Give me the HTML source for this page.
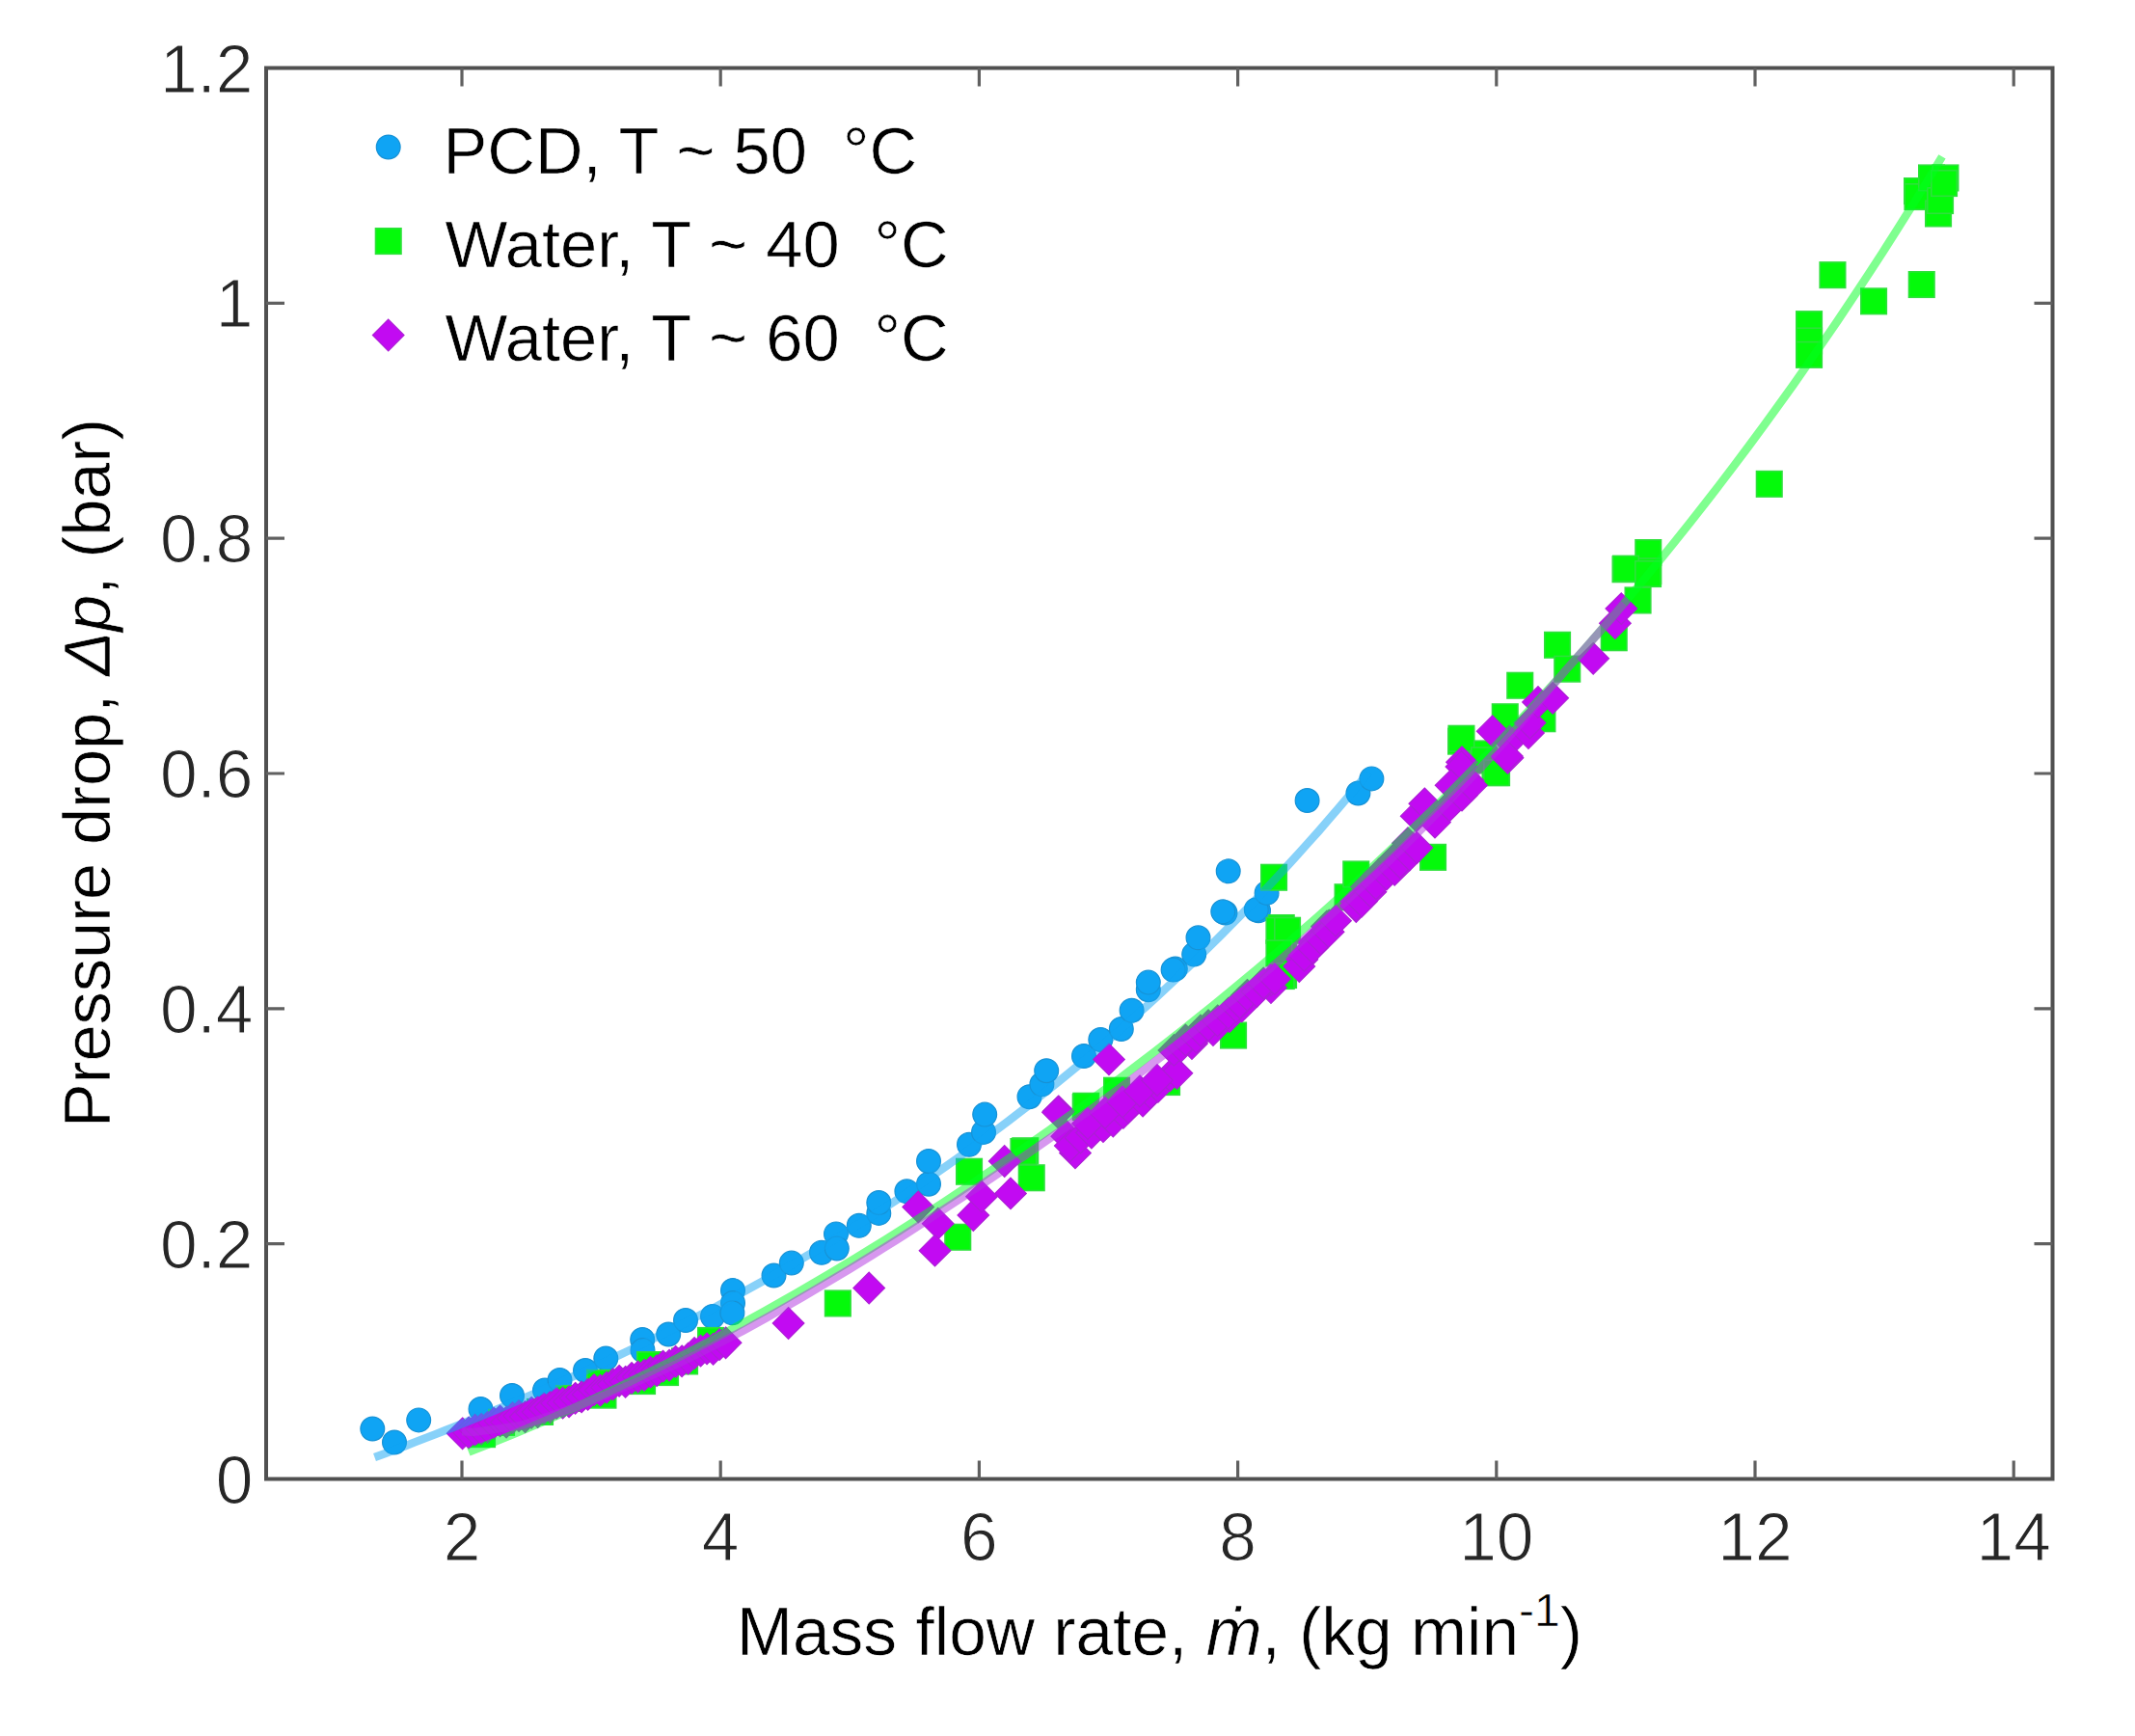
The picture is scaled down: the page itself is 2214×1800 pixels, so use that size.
<!DOCTYPE html><html><head><meta charset="utf-8"><title>Pressure drop vs mass flow rate</title>
<style>html,body{margin:0;padding:0;background:#fff}svg{display:block}text{font-family:"Liberation Sans",sans-serif;font-size:69.5px;fill:#262626;stroke:#fff;stroke-width:1.1px}.lg{fill:#000;stroke-width:0.6px}.l2{font-size:68.7px}.i{font-style:italic}</style></head><body>
<svg width="2214" height="1800" viewBox="0 0 2214 1800">
<rect width="2214" height="1800" fill="#fff"/>
<g fill="#0fa4f4" stroke="#1792d6" stroke-width="1.2">
<circle cx="386.3" cy="1481.5" r="12.4"/>
<circle cx="409.0" cy="1495.5" r="12.4"/>
<circle cx="434.2" cy="1472.4" r="12.4"/>
<circle cx="498.5" cy="1461.0" r="12.4"/>
<circle cx="531.0" cy="1447.0" r="12.4"/>
<circle cx="565.0" cy="1441.5" r="12.4"/>
<circle cx="580.5" cy="1431.0" r="12.4"/>
<circle cx="607.0" cy="1421.0" r="12.4"/>
<circle cx="628.3" cy="1408.5" r="12.4"/>
<circle cx="666.2" cy="1389.0" r="12.4"/>
<circle cx="666.5" cy="1400.0" r="12.4"/>
<circle cx="693.2" cy="1383.5" r="12.4"/>
<circle cx="711.0" cy="1369.0" r="12.4"/>
<circle cx="739.0" cy="1365.0" r="12.4"/>
<circle cx="760.0" cy="1338.0" r="12.4"/>
<circle cx="760.0" cy="1351.0" r="12.4"/>
<circle cx="759.4" cy="1361.3" r="12.4"/>
<circle cx="802.5" cy="1322.5" r="12.4"/>
<circle cx="820.8" cy="1309.6" r="12.4"/>
<circle cx="852.0" cy="1298.8" r="12.4"/>
<circle cx="867.0" cy="1279.4" r="12.4"/>
<circle cx="867.8" cy="1294.5" r="12.4"/>
<circle cx="890.8" cy="1270.8" r="12.4"/>
<circle cx="911.3" cy="1257.9" r="12.4"/>
<circle cx="911.3" cy="1247.0" r="12.4"/>
<circle cx="940.4" cy="1235.3" r="12.4"/>
<circle cx="963.0" cy="1227.7" r="12.4"/>
<circle cx="963.0" cy="1204.0" r="12.4"/>
<circle cx="1005.0" cy="1186.8" r="12.4"/>
<circle cx="1020.0" cy="1173.9" r="12.4"/>
<circle cx="1021.2" cy="1155.6" r="12.4"/>
<circle cx="1067.5" cy="1137.2" r="12.4"/>
<circle cx="1080.4" cy="1124.3" r="12.4"/>
<circle cx="1085.2" cy="1110.2" r="12.4"/>
<circle cx="1124.0" cy="1095.0" r="12.4"/>
<circle cx="1141.3" cy="1078.0" r="12.4"/>
<circle cx="1162.8" cy="1067.0" r="12.4"/>
<circle cx="1173.6" cy="1047.7" r="12.4"/>
<circle cx="1190.8" cy="1026.2" r="12.4"/>
<circle cx="1218.8" cy="1004.6" r="12.4"/>
<circle cx="1238.2" cy="989.6" r="12.4"/>
<circle cx="1242.5" cy="972.3" r="12.4"/>
<circle cx="1270.5" cy="946.5" r="12.4"/>
<circle cx="1305.0" cy="944.3" r="12.4"/>
<circle cx="1190.8" cy="1018.6" r="12.4"/>
<circle cx="1216.6" cy="1005.6" r="12.4"/>
<circle cx="1268.3" cy="945.3" r="12.4"/>
<circle cx="1273.7" cy="903.3" r="12.4"/>
<circle cx="1302.8" cy="943.2" r="12.4"/>
<circle cx="1313.6" cy="925.9" r="12.4"/>
<circle cx="1355.6" cy="830.0" r="12.4"/>
<circle cx="1408.4" cy="822.5" r="12.4"/>
<circle cx="1422.4" cy="807.4" r="12.4"/>
</g>
<g fill="#04fa0a" stroke="#2fe03c" stroke-width="1.6">
<rect x="855.6" y="1338.2" width="26.5" height="26.5"/>
<rect x="980.0" y="1269.5" width="26.5" height="26.5"/>
<rect x="991.8" y="1201.5" width="26.5" height="26.5"/>
<rect x="1056.5" y="1208.0" width="26.5" height="26.5"/>
<rect x="1050.0" y="1180.0" width="26.5" height="26.5"/>
<rect x="1112.5" y="1134.8" width="26.5" height="26.5"/>
<rect x="1144.8" y="1117.5" width="26.5" height="26.5"/>
<rect x="1048.2" y="1180.8" width="26.5" height="26.5"/>
<rect x="1113.0" y="1133.5" width="26.5" height="26.5"/>
<rect x="1315.5" y="948.8" width="26.5" height="26.5"/>
<rect x="1317.8" y="976.8" width="26.5" height="26.5"/>
<rect x="1317.8" y="997.8" width="26.5" height="26.5"/>
<rect x="1265.8" y="1060.3" width="26.5" height="26.5"/>
<rect x="1196.8" y="1108.8" width="26.5" height="26.5"/>
<rect x="1307.8" y="896.5" width="26.5" height="26.5"/>
<rect x="1313.2" y="951.5" width="26.5" height="26.5"/>
<rect x="1321.8" y="951.5" width="26.5" height="26.5"/>
<rect x="1313.2" y="975.1" width="26.5" height="26.5"/>
<rect x="1315.5" y="998.8" width="26.5" height="26.5"/>
<rect x="1384.3" y="917.0" width="26.5" height="26.5"/>
<rect x="1393.0" y="893.2" width="26.5" height="26.5"/>
<rect x="1472.8" y="875.6" width="26.5" height="26.5"/>
<rect x="1501.8" y="755.4" width="26.5" height="26.5"/>
<rect x="1537.3" y="787.8" width="26.5" height="26.5"/>
<rect x="1524.5" y="768.2" width="26.5" height="26.5"/>
<rect x="1502.2" y="752.5" width="26.5" height="26.5"/>
<rect x="1525.8" y="775.1" width="26.5" height="26.5"/>
<rect x="1538.8" y="788.0" width="26.5" height="26.5"/>
<rect x="1547.5" y="730.0" width="26.5" height="26.5"/>
<rect x="1563.0" y="697.5" width="26.5" height="26.5"/>
<rect x="1586.2" y="732.0" width="26.5" height="26.5"/>
<rect x="1601.8" y="655.5" width="26.5" height="26.5"/>
<rect x="1612.0" y="680.4" width="26.5" height="26.5"/>
<rect x="1660.5" y="648.0" width="26.5" height="26.5"/>
<rect x="1685.3" y="609.2" width="26.5" height="26.5"/>
<rect x="1672.3" y="577.0" width="26.5" height="26.5"/>
<rect x="1696.0" y="559.8" width="26.5" height="26.5"/>
<rect x="1696.0" y="579.0" width="26.5" height="26.5"/>
<rect x="1672.8" y="576.4" width="26.5" height="26.5"/>
<rect x="1695.8" y="581.8" width="26.5" height="26.5"/>
<rect x="1821.5" y="488.6" width="26.5" height="26.5"/>
<rect x="1862.8" y="322.9" width="26.5" height="26.5"/>
<rect x="1862.8" y="340.2" width="26.5" height="26.5"/>
<rect x="1862.8" y="354.6" width="26.5" height="26.5"/>
<rect x="1887.2" y="271.9" width="26.5" height="26.5"/>
<rect x="1929.8" y="299.1" width="26.5" height="26.5"/>
<rect x="1979.5" y="281.8" width="26.5" height="26.5"/>
<rect x="1974.8" y="184.8" width="26.5" height="26.5"/>
<rect x="1975.2" y="190.8" width="26.5" height="26.5"/>
<rect x="1989.8" y="171.2" width="26.5" height="26.5"/>
<rect x="2004.2" y="171.2" width="26.5" height="26.5"/>
<rect x="1996.8" y="208.2" width="26.5" height="26.5"/>
<rect x="1998.8" y="194.8" width="26.5" height="26.5"/>
<rect x="2002.8" y="176.8" width="26.5" height="26.5"/>
<rect x="608.8" y="1420.6" width="26.5" height="26.5"/>
<rect x="660.8" y="1401.8" width="26.5" height="26.5"/>
<rect x="723.8" y="1376.7" width="26.5" height="26.5"/>
<rect x="612.2" y="1433.4" width="26.5" height="26.5"/>
<rect x="652.8" y="1418.8" width="26.5" height="26.5"/>
<rect x="676.8" y="1409.8" width="26.5" height="26.5"/>
<rect x="506.8" y="1461.6" width="26.5" height="26.5"/>
<rect x="546.8" y="1450.7" width="26.5" height="26.5"/>
<rect x="576.8" y="1436.7" width="26.5" height="26.5"/>
<rect x="696.8" y="1398.2" width="26.5" height="26.5"/>
<rect x="486.8" y="1473.9" width="26.5" height="26.5"/>
</g>
<g fill="#c20af2" stroke="#ad1ed6" stroke-width="1.2">
<path d="M817.6,1355.7 l16.3,16.3 l-16.3,16.3 l-16.3,-16.3z"/>
<path d="M901.2,1319.2 l16.3,16.3 l-16.3,16.3 l-16.3,-16.3z"/>
<path d="M952.2,1235.1 l16.3,16.3 l-16.3,16.3 l-16.3,-16.3z"/>
<path d="M972.7,1252.4 l16.3,16.3 l-16.3,16.3 l-16.3,-16.3z"/>
<path d="M969.5,1280.4 l16.3,16.3 l-16.3,16.3 l-16.3,-16.3z"/>
<path d="M1009.3,1243.7 l16.3,16.3 l-16.3,16.3 l-16.3,-16.3z"/>
<path d="M1018.0,1224.4 l16.3,16.3 l-16.3,16.3 l-16.3,-16.3z"/>
<path d="M1041.7,1187.7 l16.3,16.3 l-16.3,16.3 l-16.3,-16.3z"/>
<path d="M1048.0,1221.1 l16.3,16.3 l-16.3,16.3 l-16.3,-16.3z"/>
<path d="M1097.7,1136.0 l16.3,16.3 l-16.3,16.3 l-16.3,-16.3z"/>
<path d="M1115.0,1179.1 l16.3,16.3 l-16.3,16.3 l-16.3,-16.3z"/>
<path d="M1106.3,1161.9 l16.3,16.3 l-16.3,16.3 l-16.3,-16.3z"/>
<path d="M1150.0,1082.1 l16.3,16.3 l-16.3,16.3 l-16.3,-16.3z"/>
<path d="M1097.0,1137.0 l16.3,16.3 l-16.3,16.3 l-16.3,-16.3z"/>
<path d="M1236.0,1065.7 l16.3,16.3 l-16.3,16.3 l-16.3,-16.3z"/>
<path d="M1258.0,1051.7 l16.3,16.3 l-16.3,16.3 l-16.3,-16.3z"/>
<path d="M1275.0,1037.9 l16.3,16.3 l-16.3,16.3 l-16.3,-16.3z"/>
<path d="M1287.8,1027.1 l16.3,16.3 l-16.3,16.3 l-16.3,-16.3z"/>
<path d="M1318.0,1007.7 l16.3,16.3 l-16.3,16.3 l-16.3,-16.3z"/>
<path d="M1350.3,977.6 l16.3,16.3 l-16.3,16.3 l-16.3,-16.3z"/>
<path d="M1363.2,960.3 l16.3,16.3 l-16.3,16.3 l-16.3,-16.3z"/>
<path d="M1378.3,943.1 l16.3,16.3 l-16.3,16.3 l-16.3,-16.3z"/>
<path d="M1406.3,923.7 l16.3,16.3 l-16.3,16.3 l-16.3,-16.3z"/>
<path d="M1318.0,1000.1 l16.3,16.3 l-16.3,16.3 l-16.3,-16.3z"/>
<path d="M1350.2,978.6 l16.3,16.3 l-16.3,16.3 l-16.3,-16.3z"/>
<path d="M1363.0,961.3 l16.3,16.3 l-16.3,16.3 l-16.3,-16.3z"/>
<path d="M1376.0,944.1 l16.3,16.3 l-16.3,16.3 l-16.3,-16.3z"/>
<path d="M1406.2,918.2 l16.3,16.3 l-16.3,16.3 l-16.3,-16.3z"/>
<path d="M1417.0,903.1 l16.3,16.3 l-16.3,16.3 l-16.3,-16.3z"/>
<path d="M1430.0,890.2 l16.3,16.3 l-16.3,16.3 l-16.3,-16.3z"/>
<path d="M1445.0,875.1 l16.3,16.3 l-16.3,16.3 l-16.3,-16.3z"/>
<path d="M1460.0,857.9 l16.3,16.3 l-16.3,16.3 l-16.3,-16.3z"/>
<path d="M1468.7,829.9 l16.3,16.3 l-16.3,16.3 l-16.3,-16.3z"/>
<path d="M1477.3,817.0 l16.3,16.3 l-16.3,16.3 l-16.3,-16.3z"/>
<path d="M1488.0,836.3 l16.3,16.3 l-16.3,16.3 l-16.3,-16.3z"/>
<path d="M1503.2,819.1 l16.3,16.3 l-16.3,16.3 l-16.3,-16.3z"/>
<path d="M1516.0,808.3 l16.3,16.3 l-16.3,16.3 l-16.3,-16.3z"/>
<path d="M1522.6,793.3 l16.3,16.3 l-16.3,16.3 l-16.3,-16.3z"/>
<path d="M1516.0,773.9 l16.3,16.3 l-16.3,16.3 l-16.3,-16.3z"/>
<path d="M1563.5,769.5 l16.3,16.3 l-16.3,16.3 l-16.3,-16.3z"/>
<path d="M1565.7,752.3 l16.3,16.3 l-16.3,16.3 l-16.3,-16.3z"/>
<path d="M1585.0,743.7 l16.3,16.3 l-16.3,16.3 l-16.3,-16.3z"/>
<path d="M1515.4,778.6 l16.3,16.3 l-16.3,16.3 l-16.3,-16.3z"/>
<path d="M1504.6,798.0 l16.3,16.3 l-16.3,16.3 l-16.3,-16.3z"/>
<path d="M1526.0,798.0 l16.3,16.3 l-16.3,16.3 l-16.3,-16.3z"/>
<path d="M1547.7,741.9 l16.3,16.3 l-16.3,16.3 l-16.3,-16.3z"/>
<path d="M1562.8,767.8 l16.3,16.3 l-16.3,16.3 l-16.3,-16.3z"/>
<path d="M1586.5,733.3 l16.3,16.3 l-16.3,16.3 l-16.3,-16.3z"/>
<path d="M1595.0,711.7 l16.3,16.3 l-16.3,16.3 l-16.3,-16.3z"/>
<path d="M1610.2,707.5 l16.3,16.3 l-16.3,16.3 l-16.3,-16.3z"/>
<path d="M1652.2,666.5 l16.3,16.3 l-16.3,16.3 l-16.3,-16.3z"/>
<path d="M1674.9,629.9 l16.3,16.3 l-16.3,16.3 l-16.3,-16.3z"/>
<path d="M1681.3,614.8 l16.3,16.3 l-16.3,16.3 l-16.3,-16.3z"/>
<path d="M479.6,1470.0 l16.3,16.3 l-16.3,16.3 l-16.3,-16.3z"/>
<path d="M486.1,1469.2 l16.3,16.3 l-16.3,16.3 l-16.3,-16.3z"/>
<path d="M492.6,1466.5 l16.3,16.3 l-16.3,16.3 l-16.3,-16.3z"/>
<path d="M499.1,1465.5 l16.3,16.3 l-16.3,16.3 l-16.3,-16.3z"/>
<path d="M505.6,1463.6 l16.3,16.3 l-16.3,16.3 l-16.3,-16.3z"/>
<path d="M512.1,1459.3 l16.3,16.3 l-16.3,16.3 l-16.3,-16.3z"/>
<path d="M518.6,1457.1 l16.3,16.3 l-16.3,16.3 l-16.3,-16.3z"/>
<path d="M525.1,1458.3 l16.3,16.3 l-16.3,16.3 l-16.3,-16.3z"/>
<path d="M531.6,1453.9 l16.3,16.3 l-16.3,16.3 l-16.3,-16.3z"/>
<path d="M538.1,1451.8 l16.3,16.3 l-16.3,16.3 l-16.3,-16.3z"/>
<path d="M544.6,1452.7 l16.3,16.3 l-16.3,16.3 l-16.3,-16.3z"/>
<path d="M551.1,1448.5 l16.3,16.3 l-16.3,16.3 l-16.3,-16.3z"/>
<path d="M557.6,1447.8 l16.3,16.3 l-16.3,16.3 l-16.3,-16.3z"/>
<path d="M564.1,1444.2 l16.3,16.3 l-16.3,16.3 l-16.3,-16.3z"/>
<path d="M570.6,1442.7 l16.3,16.3 l-16.3,16.3 l-16.3,-16.3z"/>
<path d="M577.1,1438.6 l16.3,16.3 l-16.3,16.3 l-16.3,-16.3z"/>
<path d="M583.6,1438.4 l16.3,16.3 l-16.3,16.3 l-16.3,-16.3z"/>
<path d="M590.1,1437.1 l16.3,16.3 l-16.3,16.3 l-16.3,-16.3z"/>
<path d="M596.6,1433.5 l16.3,16.3 l-16.3,16.3 l-16.3,-16.3z"/>
<path d="M603.1,1432.1 l16.3,16.3 l-16.3,16.3 l-16.3,-16.3z"/>
<path d="M609.6,1429.6 l16.3,16.3 l-16.3,16.3 l-16.3,-16.3z"/>
<path d="M616.1,1424.9 l16.3,16.3 l-16.3,16.3 l-16.3,-16.3z"/>
<path d="M622.6,1425.4 l16.3,16.3 l-16.3,16.3 l-16.3,-16.3z"/>
<path d="M629.1,1422.4 l16.3,16.3 l-16.3,16.3 l-16.3,-16.3z"/>
<path d="M635.6,1419.0 l16.3,16.3 l-16.3,16.3 l-16.3,-16.3z"/>
<path d="M642.1,1415.5 l16.3,16.3 l-16.3,16.3 l-16.3,-16.3z"/>
<path d="M648.6,1416.5 l16.3,16.3 l-16.3,16.3 l-16.3,-16.3z"/>
<path d="M655.1,1412.6 l16.3,16.3 l-16.3,16.3 l-16.3,-16.3z"/>
<path d="M661.6,1411.2 l16.3,16.3 l-16.3,16.3 l-16.3,-16.3z"/>
<path d="M668.1,1409.5 l16.3,16.3 l-16.3,16.3 l-16.3,-16.3z"/>
<path d="M674.6,1406.4 l16.3,16.3 l-16.3,16.3 l-16.3,-16.3z"/>
<path d="M681.1,1404.8 l16.3,16.3 l-16.3,16.3 l-16.3,-16.3z"/>
<path d="M687.6,1400.3 l16.3,16.3 l-16.3,16.3 l-16.3,-16.3z"/>
<path d="M694.1,1399.4 l16.3,16.3 l-16.3,16.3 l-16.3,-16.3z"/>
<path d="M700.6,1395.5 l16.3,16.3 l-16.3,16.3 l-16.3,-16.3z"/>
<path d="M707.1,1395.0 l16.3,16.3 l-16.3,16.3 l-16.3,-16.3z"/>
<path d="M713.6,1392.3 l16.3,16.3 l-16.3,16.3 l-16.3,-16.3z"/>
<path d="M720.1,1386.7 l16.3,16.3 l-16.3,16.3 l-16.3,-16.3z"/>
<path d="M726.6,1384.3 l16.3,16.3 l-16.3,16.3 l-16.3,-16.3z"/>
<path d="M733.1,1382.1 l16.3,16.3 l-16.3,16.3 l-16.3,-16.3z"/>
<path d="M739.6,1382.5 l16.3,16.3 l-16.3,16.3 l-16.3,-16.3z"/>
<path d="M746.1,1377.8 l16.3,16.3 l-16.3,16.3 l-16.3,-16.3z"/>
<path d="M752.6,1376.0 l16.3,16.3 l-16.3,16.3 l-16.3,-16.3z"/>
<path d="M1109.8,1171.8 l16.3,16.3 l-16.3,16.3 l-16.3,-16.3z"/>
<path d="M1120.5,1163.4 l16.3,16.3 l-16.3,16.3 l-16.3,-16.3z"/>
<path d="M1131.9,1158.2 l16.3,16.3 l-16.3,16.3 l-16.3,-16.3z"/>
<path d="M1144.0,1151.9 l16.3,16.3 l-16.3,16.3 l-16.3,-16.3z"/>
<path d="M1154.3,1146.2 l16.3,16.3 l-16.3,16.3 l-16.3,-16.3z"/>
<path d="M1164.9,1137.6 l16.3,16.3 l-16.3,16.3 l-16.3,-16.3z"/>
<path d="M1170.1,1132.0 l16.3,16.3 l-16.3,16.3 l-16.3,-16.3z"/>
<path d="M1185.1,1125.3 l16.3,16.3 l-16.3,16.3 l-16.3,-16.3z"/>
<path d="M1192.9,1116.7 l16.3,16.3 l-16.3,16.3 l-16.3,-16.3z"/>
<path d="M1200.9,1110.5 l16.3,16.3 l-16.3,16.3 l-16.3,-16.3z"/>
<path d="M1213.3,1099.1 l16.3,16.3 l-16.3,16.3 l-16.3,-16.3z"/>
<path d="M1220.4,1096.5 l16.3,16.3 l-16.3,16.3 l-16.3,-16.3z"/>
<path d="M1128.0,1148.7 l16.3,16.3 l-16.3,16.3 l-16.3,-16.3z"/>
<path d="M1146.0,1137.5 l16.3,16.3 l-16.3,16.3 l-16.3,-16.3z"/>
<path d="M1164.0,1126.2 l16.3,16.3 l-16.3,16.3 l-16.3,-16.3z"/>
<path d="M1182.0,1115.0 l16.3,16.3 l-16.3,16.3 l-16.3,-16.3z"/>
<path d="M1200.0,1103.7 l16.3,16.3 l-16.3,16.3 l-16.3,-16.3z"/>
<path d="M1217.4,1072.6 l16.3,16.3 l-16.3,16.3 l-16.3,-16.3z"/>
<path d="M1224.6,1068.5 l16.3,16.3 l-16.3,16.3 l-16.3,-16.3z"/>
<path d="M1229.4,1062.1 l16.3,16.3 l-16.3,16.3 l-16.3,-16.3z"/>
<path d="M1240.6,1059.3 l16.3,16.3 l-16.3,16.3 l-16.3,-16.3z"/>
<path d="M1245.0,1052.2 l16.3,16.3 l-16.3,16.3 l-16.3,-16.3z"/>
<path d="M1253.1,1046.9 l16.3,16.3 l-16.3,16.3 l-16.3,-16.3z"/>
<path d="M1262.6,1042.0 l16.3,16.3 l-16.3,16.3 l-16.3,-16.3z"/>
<path d="M1273.9,1034.3 l16.3,16.3 l-16.3,16.3 l-16.3,-16.3z"/>
<path d="M1282.1,1027.6 l16.3,16.3 l-16.3,16.3 l-16.3,-16.3z"/>
<path d="M1285.6,1023.3 l16.3,16.3 l-16.3,16.3 l-16.3,-16.3z"/>
<path d="M1293.4,1015.5 l16.3,16.3 l-16.3,16.3 l-16.3,-16.3z"/>
<path d="M1303.4,1011.8 l16.3,16.3 l-16.3,16.3 l-16.3,-16.3z"/>
<path d="M1310.2,1003.2 l16.3,16.3 l-16.3,16.3 l-16.3,-16.3z"/>
<path d="M1321.8,998.8 l16.3,16.3 l-16.3,16.3 l-16.3,-16.3z"/>
<path d="M1347.3,985.7 l16.3,16.3 l-16.3,16.3 l-16.3,-16.3z"/>
<path d="M1352.4,974.5 l16.3,16.3 l-16.3,16.3 l-16.3,-16.3z"/>
<path d="M1361.1,966.4 l16.3,16.3 l-16.3,16.3 l-16.3,-16.3z"/>
<path d="M1369.5,957.0 l16.3,16.3 l-16.3,16.3 l-16.3,-16.3z"/>
<path d="M1377.6,949.9 l16.3,16.3 l-16.3,16.3 l-16.3,-16.3z"/>
<path d="M1385.0,938.4 l16.3,16.3 l-16.3,16.3 l-16.3,-16.3z"/>
<path d="M1406.1,922.4 l16.3,16.3 l-16.3,16.3 l-16.3,-16.3z"/>
<path d="M1412.1,918.3 l16.3,16.3 l-16.3,16.3 l-16.3,-16.3z"/>
<path d="M1421.4,908.4 l16.3,16.3 l-16.3,16.3 l-16.3,-16.3z"/>
<path d="M1426.9,900.0 l16.3,16.3 l-16.3,16.3 l-16.3,-16.3z"/>
<path d="M1437.9,890.3 l16.3,16.3 l-16.3,16.3 l-16.3,-16.3z"/>
<path d="M1446.2,885.6 l16.3,16.3 l-16.3,16.3 l-16.3,-16.3z"/>
<path d="M1451.6,877.8 l16.3,16.3 l-16.3,16.3 l-16.3,-16.3z"/>
<path d="M1461.7,870.3 l16.3,16.3 l-16.3,16.3 l-16.3,-16.3z"/>
<path d="M1469.3,862.7 l16.3,16.3 l-16.3,16.3 l-16.3,-16.3z"/>
</g>
<g fill="none" stroke-width="8.5" stroke-linecap="butt" stroke-opacity="0.5">
<path stroke="#0fa4f4" d="M388.5,1511.0 L398.9,1507.2 L409.3,1503.3 L419.7,1499.4 L430.1,1495.4 L440.5,1491.4 L451.0,1487.4 L461.4,1483.3 L471.8,1479.2 L482.2,1475.0 L492.6,1470.8 L503.0,1466.6 L513.4,1462.3 L523.8,1457.9 L534.2,1453.5 L544.6,1449.1 L555.0,1444.6 L565.5,1440.1 L575.9,1435.5 L586.3,1430.9 L596.7,1426.2 L607.1,1421.5 L617.5,1416.7 L627.9,1411.8 L638.3,1406.9 L648.7,1402.0 L659.1,1397.0 L669.5,1391.9 L680.0,1386.8 L690.4,1381.6 L700.8,1376.4 L711.2,1371.1 L721.6,1365.8 L732.0,1360.4 L742.4,1354.9 L752.8,1349.3 L763.2,1343.7 L773.6,1338.0 L784.0,1332.3 L794.5,1326.5 L804.9,1320.6 L815.3,1314.7 L825.7,1308.6 L836.1,1302.5 L846.5,1296.4 L856.9,1290.1 L867.3,1283.8 L877.7,1277.4 L888.1,1270.9 L898.5,1264.3 L909.0,1257.7 L919.4,1251.0 L929.8,1244.2 L940.2,1237.3 L950.6,1230.3 L961.0,1223.2 L971.4,1216.0 L981.8,1208.8 L992.2,1201.4 L1002.6,1194.0 L1013.0,1186.5 L1023.5,1178.8 L1033.9,1171.1 L1044.3,1163.3 L1054.7,1155.4 L1065.1,1147.3 L1075.5,1139.2 L1085.9,1130.9 L1096.3,1122.6 L1106.7,1114.1 L1117.1,1105.6 L1127.5,1096.9 L1138.0,1088.1 L1148.4,1079.2 L1158.8,1070.1 L1169.2,1061.0 L1179.6,1051.7 L1190.0,1042.3 L1200.4,1032.8 L1210.8,1023.2 L1221.2,1013.4 L1231.6,1003.5 L1242.0,993.5 L1252.5,983.3 L1262.9,973.0 L1273.3,962.6 L1283.7,952.0 L1294.1,941.3 L1304.5,930.5 L1314.9,919.5 L1325.3,908.3 L1335.7,897.0 L1346.1,885.6 L1356.5,874.0 L1367.0,862.3 L1377.4,850.3 L1387.8,838.3 L1398.2,826.1 L1408.6,813.7 L1419.0,801.1"/>
<path stroke="#00ff20" d="M486.0,1505.6 L501.4,1499.6 L516.9,1493.4 L532.3,1487.1 L547.7,1480.7 L563.2,1474.1 L578.6,1467.3 L594.0,1460.4 L609.5,1453.4 L624.9,1446.2 L640.3,1438.9 L655.8,1431.4 L671.2,1423.8 L686.6,1416.1 L702.1,1408.3 L717.5,1400.3 L732.9,1392.2 L748.4,1383.9 L763.8,1375.6 L779.3,1367.1 L794.7,1358.5 L810.1,1349.8 L825.6,1340.9 L841.0,1331.9 L856.4,1322.8 L871.9,1313.6 L887.3,1304.3 L902.7,1294.8 L918.2,1285.3 L933.6,1275.6 L949.0,1265.7 L964.5,1255.8 L979.9,1245.7 L995.3,1235.6 L1010.8,1225.3 L1026.2,1214.8 L1041.6,1204.3 L1057.1,1193.6 L1072.5,1182.8 L1087.9,1171.9 L1103.4,1160.8 L1118.8,1149.6 L1134.2,1138.3 L1149.7,1126.8 L1165.1,1115.2 L1180.5,1103.5 L1196.0,1091.6 L1211.4,1079.6 L1226.8,1067.5 L1242.3,1055.2 L1257.7,1042.7 L1273.2,1030.1 L1288.6,1017.3 L1304.0,1004.4 L1319.5,991.3 L1334.9,978.1 L1350.3,964.6 L1365.8,951.1 L1381.2,937.3 L1396.6,923.3 L1412.1,909.2 L1427.5,894.9 L1442.9,880.4 L1458.4,865.7 L1473.8,850.8 L1489.2,835.7 L1504.7,820.4 L1520.1,804.9 L1535.5,789.1 L1551.0,773.2 L1566.4,757.0 L1581.8,740.6 L1597.3,723.9 L1612.7,707.0 L1628.1,689.9 L1643.6,672.5 L1659.0,654.8 L1674.4,636.9 L1689.9,618.7 L1705.3,600.2 L1720.7,581.5 L1736.2,562.4 L1751.6,543.1 L1767.1,523.4 L1782.5,503.5 L1797.9,483.2 L1813.4,462.6 L1828.8,441.7 L1844.2,420.5 L1859.7,398.9 L1875.1,376.9 L1890.5,354.6 L1906.0,332.0 L1921.4,308.9 L1936.8,285.5 L1952.3,261.7 L1967.7,237.5 L1983.1,212.9 L1998.6,187.8 L2014.0,162.4"/>
<path stroke="#b030e0" d="M479.0,1484.2 L491.2,1484.9 L503.3,1483.3 L515.5,1481.6 L527.7,1479.8 L539.9,1478.0 L552.0,1474.1 L564.2,1470.1 L576.4,1465.9 L588.5,1461.8 L600.7,1457.4 L612.9,1452.6 L625.1,1447.6 L637.2,1442.6 L649.4,1437.5 L661.6,1432.3 L673.7,1427.0 L685.9,1421.6 L698.1,1416.2 L710.3,1410.3 L722.4,1404.4 L734.6,1398.3 L746.8,1392.1 L758.9,1385.9 L771.1,1379.6 L783.3,1372.8 L795.5,1366.0 L807.6,1359.1 L819.8,1352.1 L832.0,1345.0 L844.2,1337.9 L856.3,1330.7 L868.5,1323.4 L880.7,1316.1 L892.8,1308.6 L905.0,1301.1 L917.2,1293.5 L929.4,1285.9 L941.5,1278.2 L953.7,1270.3 L965.9,1262.5 L978.0,1254.5 L990.2,1246.5 L1002.4,1238.4 L1014.6,1230.5 L1026.7,1222.4 L1038.9,1214.3 L1051.1,1206.1 L1063.2,1197.9 L1075.4,1189.5 L1087.6,1181.1 L1099.8,1172.6 L1111.9,1164.0 L1124.1,1155.3 L1136.3,1146.6 L1148.4,1137.7 L1160.6,1128.7 L1172.8,1119.6 L1185.0,1110.4 L1197.1,1101.1 L1209.3,1091.7 L1221.5,1082.2 L1233.6,1072.6 L1245.8,1063.0 L1258.0,1053.2 L1270.2,1043.3 L1282.3,1033.4 L1294.5,1023.3 L1306.7,1013.1 L1318.8,1002.7 L1331.0,992.2 L1343.2,981.6 L1355.4,970.9 L1367.5,960.0 L1379.7,949.1 L1391.9,938.0 L1404.1,926.9 L1416.2,915.6 L1428.4,904.2 L1440.6,892.7 L1452.7,881.0 L1464.9,868.9 L1477.1,856.6 L1489.3,844.3 L1501.4,831.8 L1513.6,819.1 L1525.8,806.4 L1537.9,793.5 L1550.1,780.4 L1562.3,767.1 L1574.5,753.0 L1586.6,738.8 L1598.8,724.4 L1611.0,709.8 L1623.1,695.5 L1635.3,681.8 L1647.5,668.0 L1659.7,654.1 L1671.8,639.9 L1684.0,625.7"/>
</g>
<g stroke="#606060" stroke-width="3.2" fill="none">
<rect x="276.0" y="70.5" width="1852.5" height="1463.0" stroke-width="4" stroke="#505050"/>
<path d="M479.0,1533.5 v-19 M479.0,70.5 v19"/>
<path d="M747.2,1533.5 v-19 M747.2,70.5 v19"/>
<path d="M1015.4,1533.5 v-19 M1015.4,70.5 v19"/>
<path d="M1283.6,1533.5 v-19 M1283.6,70.5 v19"/>
<path d="M1551.8,1533.5 v-19 M1551.8,70.5 v19"/>
<path d="M1820.0,1533.5 v-19 M1820.0,70.5 v19"/>
<path d="M2088.2,1533.5 v-19 M2088.2,70.5 v19"/>
<path d="M276.0,1289.7 h19 M2128.5,1289.7 h-19"/>
<path d="M276.0,1045.8 h19 M2128.5,1045.8 h-19"/>
<path d="M276.0,802.0 h19 M2128.5,802.0 h-19"/>
<path d="M276.0,558.2 h19 M2128.5,558.2 h-19"/>
<path d="M276.0,314.3 h19 M2128.5,314.3 h-19"/>
</g>
<text x="479.0" y="1617.5" text-anchor="middle">2</text>
<text x="747.2" y="1617.5" text-anchor="middle">4</text>
<text x="1015.4" y="1617.5" text-anchor="middle">6</text>
<text x="1283.6" y="1617.5" text-anchor="middle">8</text>
<text x="1551.8" y="1617.5" text-anchor="middle">10</text>
<text x="1820.0" y="1617.5" text-anchor="middle">12</text>
<text x="2088.2" y="1617.5" text-anchor="middle">14</text>
<text x="262.5" y="1558.5" text-anchor="end">0</text>
<text x="262.5" y="1314.7" text-anchor="end">0.2</text>
<text x="262.5" y="1070.8" text-anchor="end">0.4</text>
<text x="262.5" y="827.0" text-anchor="end">0.6</text>
<text x="262.5" y="583.2" text-anchor="end">0.8</text>
<text x="262.5" y="339.3" text-anchor="end">1</text>
<text x="262.5" y="95.5" text-anchor="end">1.2</text>
<text x="1202.5" y="1716" text-anchor="middle" class="lg">Mass flow rate, <tspan class="i">ṁ</tspan>, (kg min<tspan dy="-30" font-size="48">-1</tspan><tspan dy="30">)</tspan></text>
<text transform="translate(113.5,801.5) rotate(-90)" text-anchor="middle" class="lg" style="font-size:68.5px">Pressure drop, <tspan class="i">Δp</tspan>, (bar)</text>
<circle cx="402.7" cy="152.5" r="12.4" fill="#0fa4f4" stroke="#1792d6" stroke-width="1.2"/>
<rect x="389.5" y="236.8" width="26.5" height="26.5" fill="#04fa0a" stroke="#2fe03c" stroke-width="1.6"/>
<path d="M402.7,331.2 l16.3,16.3 l-16.3,16.3 l-16.3,-16.3z" fill="#c20af2" stroke="#ad1ed6" stroke-width="1.2"/>
<text x="459.5" y="179.5" class="lg l2">PCD, T ~ 50</text><text x="874" y="179.5" class="lg l2">°C</text>
<text x="461.5" y="276.5" class="lg l2">Water, T ~ 40</text><text x="906.5" y="276.5" class="lg l2">°C</text>
<text x="461.5" y="373.5" class="lg l2">Water, T ~ 60</text><text x="906.5" y="373.5" class="lg l2">°C</text>
</svg></body></html>
